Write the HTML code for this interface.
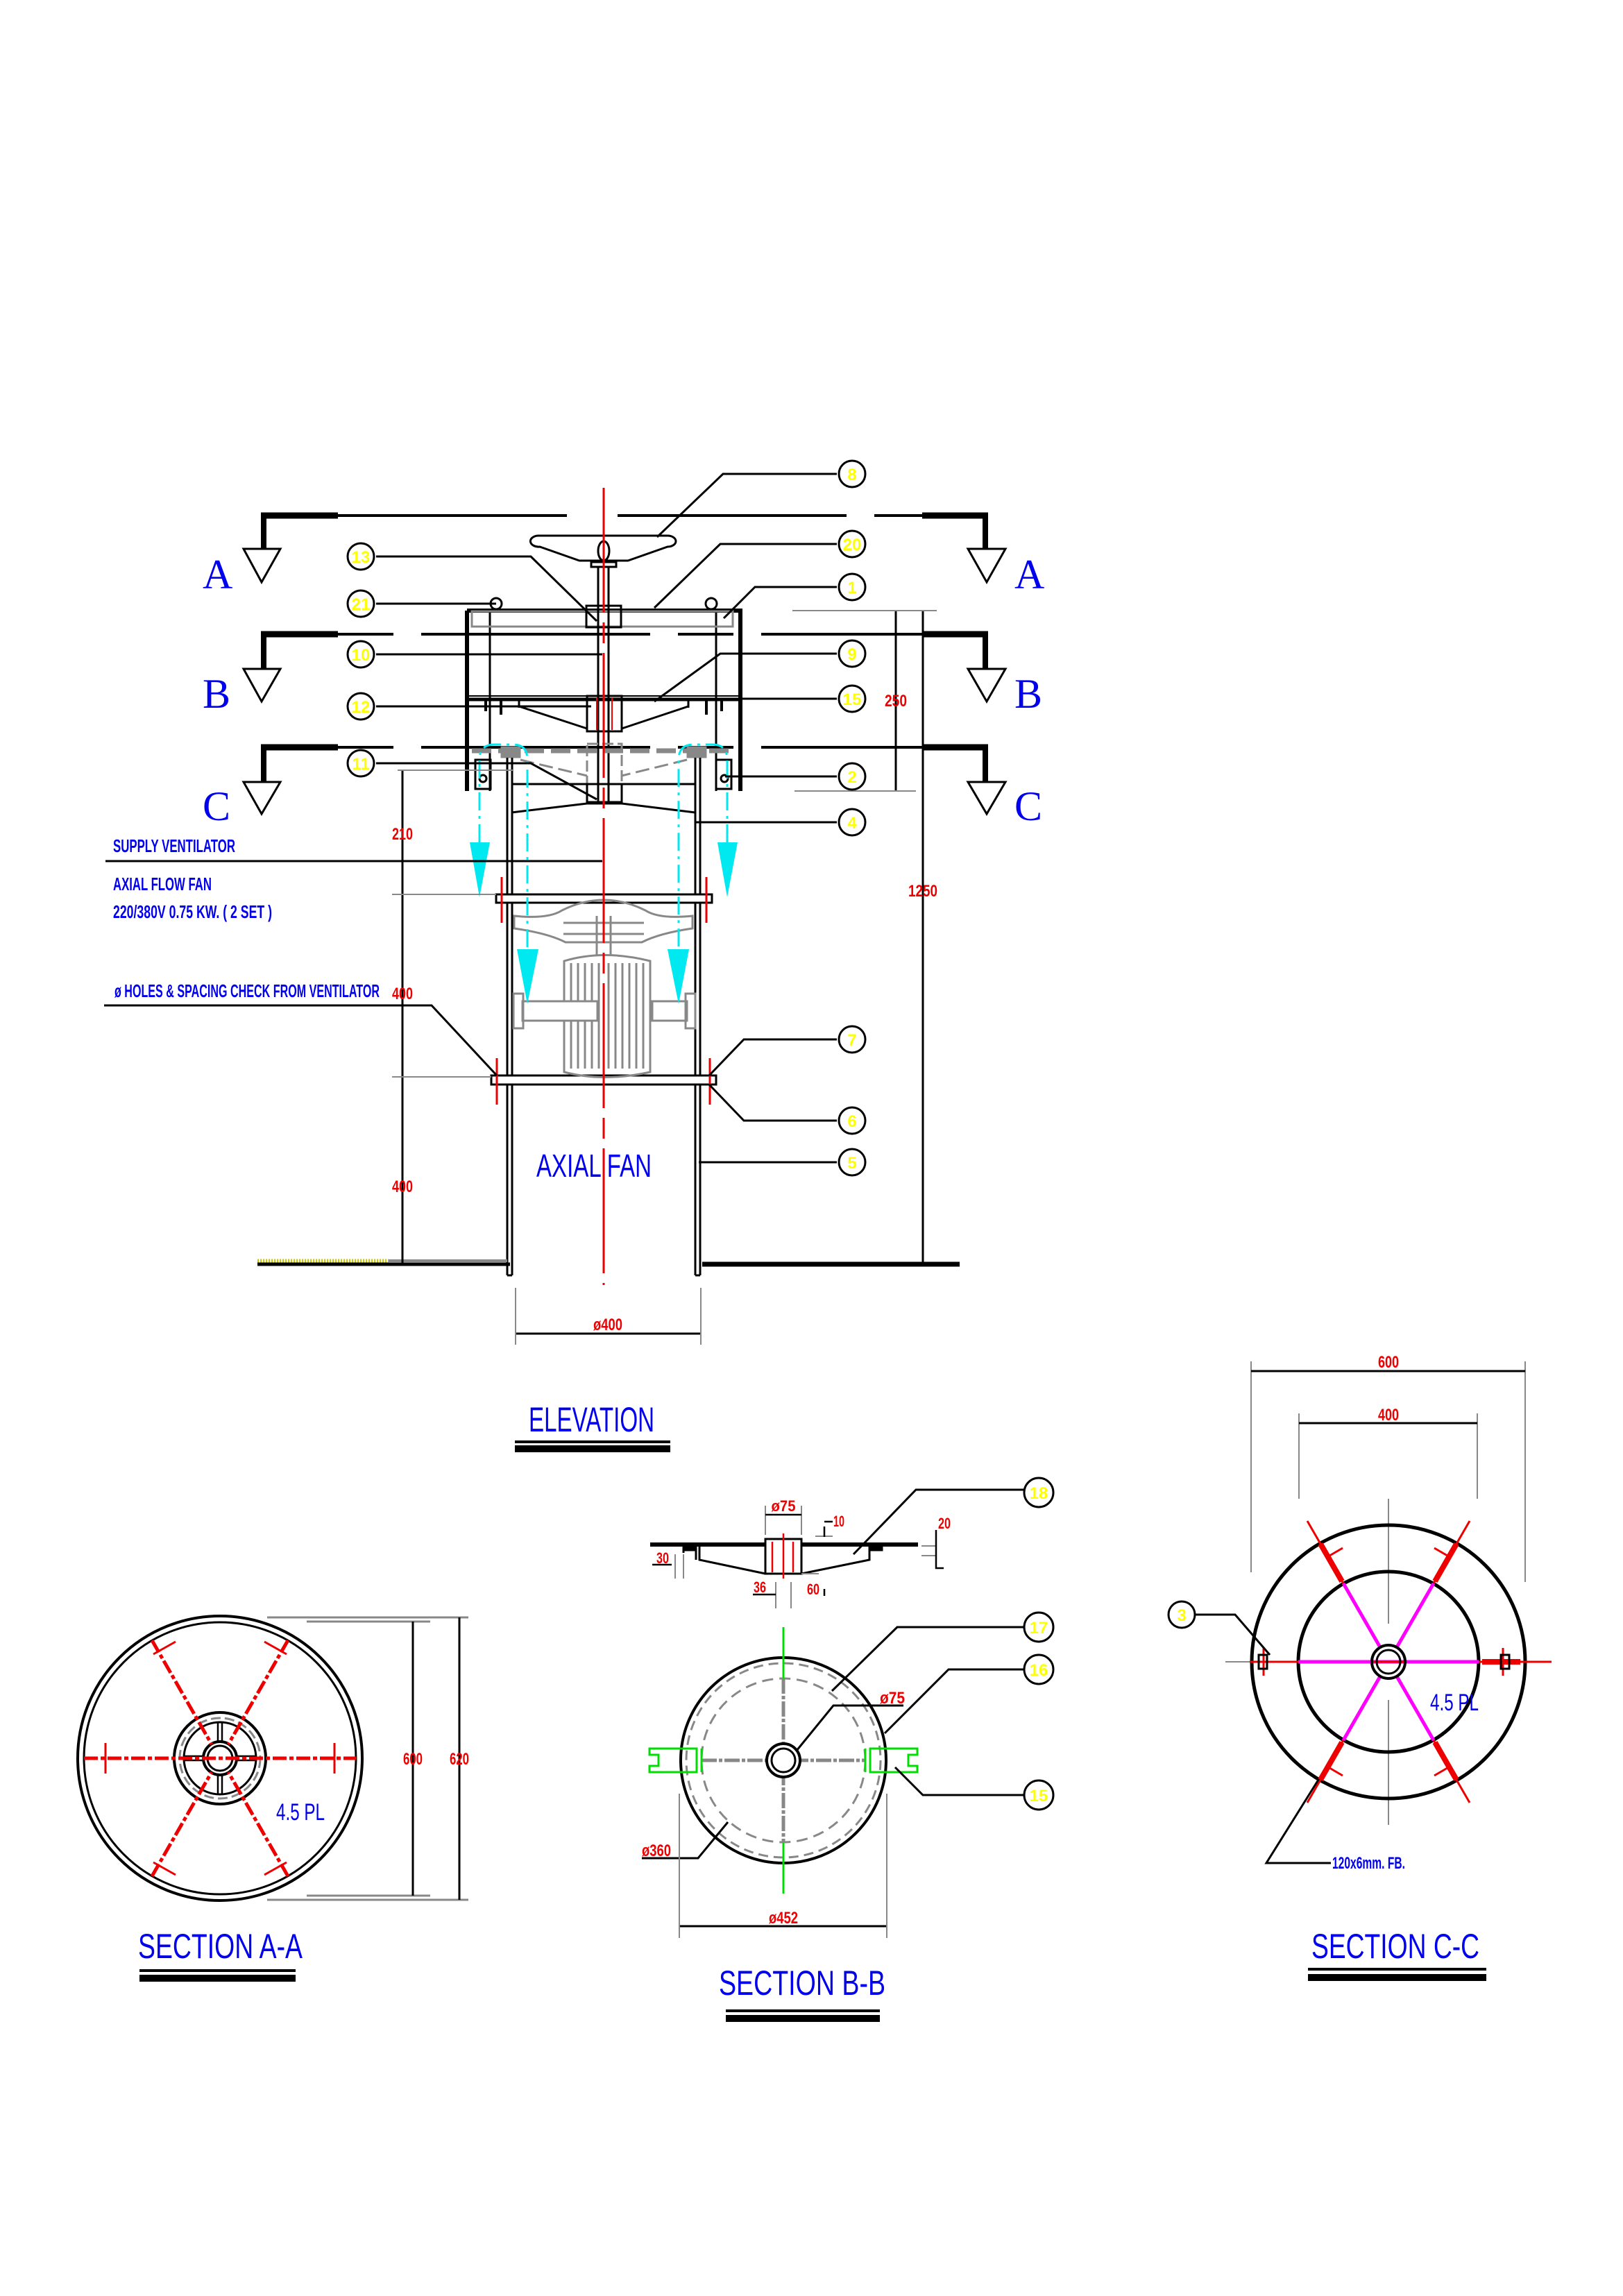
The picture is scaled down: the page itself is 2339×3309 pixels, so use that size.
<!DOCTYPE html>
<html><head><meta charset="utf-8"><style>
html,body{margin:0;padding:0;background:#fff;}
svg{display:block;}
text{font-family:"Liberation Sans Narrow","Liberation Sans",sans-serif;}
.bl{fill:#0000ee;font-weight:bold;}
.rd{fill:#ee0000;}
.yl{fill:#ffff00;font-weight:bold;}
.ser{font-family:"Liberation Serif",serif;fill:#0000ee;}
</style></head><body>
<svg width="2339" height="3309" viewBox="0 0 2339 3309" xmlns="http://www.w3.org/2000/svg">
<rect width="2339" height="3309" fill="#fff"/>

<!-- ===== ELEVATION ===== -->
<!-- section lines -->
<g stroke="#000" fill="none">
 <!-- A -->
 <path d="M487 743 H850 M890 743 H1329" stroke-width="4" stroke-dasharray="330 40 80 40"/>
 <path d="M376 743 H487 M1329 743 H1424" stroke-width="9"/>
 <path d="M380 743 V791 M1420 743 V791" stroke-width="8"/>
 <path d="M351 791 H404 L377 839 Z M1395 791 H1449 L1422 839 Z" stroke-width="3"/>
 <!-- B -->
 <path d="M487 914 H1329" stroke-width="4" stroke-dasharray="80 40 330 40"/>
 <path d="M376 914 H487 M1329 914 H1424" stroke-width="9"/>
 <path d="M380 914 V964 M1420 914 V964" stroke-width="8"/>
 <path d="M351 964 H404 L377 1011 Z M1395 964 H1449 L1422 1011 Z" stroke-width="3"/>
 <!-- C -->
 <path d="M487 1077 H1329" stroke-width="4" stroke-dasharray="80 40 330 40"/>
 <path d="M376 1077 H487 M1329 1077 H1424" stroke-width="9"/>
 <path d="M380 1077 V1127 M1420 1077 V1127" stroke-width="8"/>
 <path d="M351 1127 H404 L377 1173 Z M1395 1127 H1449 L1422 1173 Z" stroke-width="3"/>
</g>
<text class="ser" x="292" y="848" font-size="60">A</text>
<text class="ser" x="1462" y="848" font-size="60">A</text>
<text class="ser" x="292" y="1020" font-size="60">B</text>
<text class="ser" x="1462" y="1020" font-size="60">B</text>
<text class="ser" x="292" y="1182" font-size="60">C</text>
<text class="ser" x="1462" y="1182" font-size="60">C</text>

<!-- box -->
<g stroke="#000" fill="none">
 <path d="M673 880 H1067 V1140 M673 880 V1140" stroke-width="6"/>
 <path d="M706 880 V1140 M1032 880 V1140" stroke-width="3"/>
 <rect x="680" y="881" width="376" height="22" stroke="#888" stroke-width="3"/>
 <!-- lugs -->
 <circle cx="715" cy="870" r="8" stroke-width="3"/>
 <circle cx="1025" cy="870" r="8" stroke-width="3"/>
 <!-- wheel -->
 <path d="M775 772 H962 A12 8 0 0 1 962 788 L905 808 H835 L778 788 A12 8 0 0 1 775 772 Z" stroke-width="3"/>
 <ellipse cx="870" cy="794" rx="8" ry="14" stroke-width="3"/>
 <rect x="852" y="810" width="36" height="7" stroke-width="3"/>
 <path d="M862 817 V1156 M877 817 V1156" stroke-width="3"/>
 <rect x="845" y="873" width="50" height="31" stroke-width="3"/>
 <!-- damper plate -->
 <path d="M673 1008 H1067" stroke-width="5"/>
 <path d="M673 1003 H1067" stroke-width="2"/>
 <path d="M700 1008 V1025 M722 1008 V1030 M1018 1008 V1030 M1040 1008 V1025" stroke-width="4"/>
 <path d="M748 1018 L846 1050 M992 1018 L896 1050 M748 1010 V1020 M992 1010 V1020" stroke-width="3"/>
 <rect x="846" y="1003" width="50" height="51" stroke-width="3"/>
 <path d="M860 1006 V1052 M882 1006 V1052" stroke="#e00" stroke-width="2"/>
 <!-- lower dashed plate -->
 <path d="M680 1082 H1060" stroke="#888" stroke-width="7" stroke-dasharray="28 10"/>
 <rect x="846" y="1072" width="50" height="58" stroke="#888" stroke-width="3" stroke-dasharray="16 6"/>
 <path d="M750 1095 L846 1118 M990 1095 L896 1118" stroke="#888" stroke-width="3" stroke-dasharray="20 8"/>
 <rect x="722" y="1076" width="28" height="16" fill="#888" stroke="#888"/>
 <rect x="990" y="1076" width="28" height="16" fill="#888" stroke="#888"/>
 <path d="M846 1130 V1156 H896 V1130" stroke-width="3"/>
 <!-- bottom brackets -->
 <rect x="685" y="1095" width="22" height="42" stroke-width="3"/>
 <rect x="1032" y="1095" width="22" height="42" stroke-width="3"/>
 <circle cx="696" cy="1122" r="5" stroke-width="3"/>
 <circle cx="1044" cy="1122" r="5" stroke-width="3"/>
 <path d="M737 1130 H1002" stroke-width="3"/>
 <!-- cone -->
 <path d="M737 1171 L846 1158 H896 L1002 1171" stroke-width="3"/>
 <!-- duct -->
 <path d="M731 1092 V1838 M738 1092 V1838 M1002 1092 V1838 M1009 1092 V1838 M731 1838 H738 M1002 1838 H1009" stroke-width="3"/>
 <!-- flanges -->
 <rect x="715" y="1289" width="311" height="12" stroke-width="3" fill="#fff"/>
 <rect x="708" y="1550" width="324" height="13" stroke-width="3" fill="#fff"/>
 <!-- fan (gray) -->
 <g stroke="#888" stroke-width="3">
  <path d="M741 1320 Q790 1325 810 1312 Q870 1282 930 1312 Q950 1325 998 1320 V1338 Q950 1345 925 1358 H815 Q790 1345 741 1338 Z"/>
  <path d="M812 1330 H928 M812 1346 H928 M860 1320 V1378 M880 1320 V1378"/>
  <path d="M813 1385 Q870 1368 937 1385 V1545 Q870 1560 813 1545 Z"/>
  <path d="M823 1388 V1540 M833 1388 V1540 M843 1388 V1540 M853 1388 V1540 M863 1388 V1540 M877 1388 V1540 M887 1388 V1540 M897 1388 V1540 M907 1388 V1540 M917 1388 V1540 M927 1388 V1540"/>
  <rect x="753" y="1443" width="108" height="28" fill="#fff"/>
  <rect x="940" y="1443" width="50" height="28" fill="#fff"/>
  <rect x="740" y="1432" width="14" height="50"/>
  <rect x="988" y="1432" width="14" height="50"/>
 </g>
</g>
<!-- red flange ticks -->
<g stroke="#e00" stroke-width="3">
 <path d="M723 1264 V1330 M1018 1264 V1330 M716 1525 V1592 M1023 1525 V1592"/>
</g>
<!-- centerline -->
<path d="M870 703 V1852" stroke="#e00" stroke-width="3" stroke-dasharray="180 14 30 14"/>
<!-- cyan arrows -->
<g stroke="#00e8f0" stroke-width="3" fill="none" stroke-dasharray="26 8 4 8">
 <path d="M691 1214 V1095 Q691 1073 712 1073 H740 Q760 1073 760 1095 V1368"/>
 <path d="M1048 1214 V1095 Q1048 1073 1027 1073 H999 Q978 1073 978 1095 V1368"/>
</g>
<g fill="#00e8f0">
 <path d="M677 1214 H706 L691 1293 Z"/>
 <path d="M1034 1214 H1063 L1048 1293 Z"/>
 <path d="M745 1368 H776 L760 1447 Z"/>
 <path d="M962 1368 H993 L978 1447 Z"/>
</g>

<!-- ground -->
<path d="M371 1822 H735" stroke="#000" stroke-width="5"/>
<path d="M371 1817 H560" stroke="#c8c800" stroke-width="5" stroke-dasharray="2 2"/>
<path d="M560 1817 H731" stroke="#888" stroke-width="4"/>
<path d="M1012 1822 H1383" stroke="#000" stroke-width="7"/>

<!-- dimensions elevation -->
<g stroke="#000" stroke-width="3" fill="none">
 <path d="M580 1110 V1822"/>
 <path d="M1291 880 V1140"/>
 <path d="M1330 880 V1822"/>
 <path d="M743 1922 H1010"/>
</g>
<g stroke="#888" stroke-width="2" fill="none">
 <path d="M573 1110 H740 M565 1289 H715 M565 1552 H708"/>
 <path d="M1142 880 H1350 M1145 1140 H1320"/>
 <path d="M743 1856 V1938 M1010 1856 V1938"/>
</g>
<g class="rd" font-size="24" font-weight="bold" text-anchor="middle">
 <text x="580" y="1210" textLength="30" lengthAdjust="spacingAndGlyphs">210</text>
 <text x="580" y="1440" textLength="30" lengthAdjust="spacingAndGlyphs">400</text>
 <text x="580" y="1718" textLength="30" lengthAdjust="spacingAndGlyphs">400</text>
 <text x="1291" y="1018" textLength="32" lengthAdjust="spacingAndGlyphs">250</text>
 <text x="1330" y="1292" textLength="42" lengthAdjust="spacingAndGlyphs">1250</text>
 <text x="876" y="1917" textLength="42" lengthAdjust="spacingAndGlyphs">ø400</text>
</g>

<!-- left notes -->
<g class="bl" font-size="26">
 <text x="163" y="1228" textLength="176" lengthAdjust="spacingAndGlyphs">SUPPLY VENTILATOR</text>
 <text x="163" y="1283" textLength="142" lengthAdjust="spacingAndGlyphs">AXIAL FLOW FAN</text>
 <text x="163" y="1323" textLength="229" lengthAdjust="spacingAndGlyphs">220/380V 0.75 KW. ( 2 SET )</text>
 <text x="165" y="1437" textLength="382" lengthAdjust="spacingAndGlyphs">ø HOLES &amp; SPACING CHECK FROM VENTILATOR</text>
</g>
<g stroke="#000" stroke-width="3" fill="none">
 <path d="M152 1241 H868"/>
 <path d="M150 1449 H622 L716 1550"/>
</g>
<text x="773" y="1696" fill="#0000ee" font-size="46" textLength="166" lengthAdjust="spacingAndGlyphs">AXIAL  FAN</text>

<!-- leaders -->
<g stroke="#000" stroke-width="3" fill="none">
 <path d="M1206 683 H1042 L947 774"/>
 <path d="M1206 784 H1038 L943 876"/>
 <path d="M1206 846 H1088 L1043 891"/>
 <path d="M1206 942 H1038 L943 1011"/>
 <path d="M1206 1007 H997"/>
 <path d="M1206 1119 H1045"/>
 <path d="M1206 1185 H1001"/>
 <path d="M1206 1498 H1072 L1022 1550"/>
 <path d="M1206 1615 H1072 L1022 1563"/>
 <path d="M1206 1675 H1007"/>
 <path d="M542 802 H765 L860 895"/>
 <path d="M542 870 H715"/>
 <path d="M542 943 H868"/>
 <path d="M542 1018 H852"/>
 <path d="M542 1100 H765 L860 1152"/>
</g>
<g stroke="#000" stroke-width="3" fill="#fff">
 <circle cx="1228" cy="683" r="19"/><circle cx="1228" cy="784" r="19"/><circle cx="1228" cy="846" r="19"/>
 <circle cx="1228" cy="942" r="19"/><circle cx="1228" cy="1007" r="19"/><circle cx="1228" cy="1119" r="19"/>
 <circle cx="1228" cy="1185" r="19"/><circle cx="1228" cy="1498" r="19"/><circle cx="1228" cy="1615" r="19"/>
 <circle cx="1228" cy="1675" r="19"/>
 <circle cx="520" cy="802" r="19"/><circle cx="520" cy="870" r="19"/><circle cx="520" cy="943" r="19"/>
 <circle cx="520" cy="1018" r="19"/><circle cx="520" cy="1100" r="19"/>
</g>
<g class="yl" font-size="24" text-anchor="middle">
 <text x="1228" y="692">8</text><text x="1228" y="793">20</text><text x="1228" y="855">1</text>
 <text x="1228" y="951">9</text><text x="1228" y="1016">15</text><text x="1228" y="1128">2</text>
 <text x="1228" y="1194">4</text><text x="1228" y="1507">7</text><text x="1228" y="1624">6</text>
 <text x="1228" y="1684">5</text>
 <text x="520" y="811">13</text><text x="520" y="879">21</text><text x="520" y="952">10</text>
 <text x="520" y="1027">12</text><text x="520" y="1109">11</text>
</g>

<!-- ELEVATION title -->
<text x="762" y="2063" fill="#0000ee" font-size="50" textLength="181" lengthAdjust="spacingAndGlyphs">ELEVATION</text>
<rect x="742" y="2076" width="224" height="4" fill="#000"/>
<rect x="742" y="2083" width="224" height="10" fill="#000"/>

<!-- ===== SECTION A-A ===== -->
<g transform="translate(317,2534)" fill="none" stroke="#000">
 <circle r="205" stroke-width="4"/>
 <circle r="196" stroke-width="3"/>
 <circle r="66" stroke-width="4"/>
 <circle r="58" stroke="#888" stroke-width="3" stroke-dasharray="14 6"/>
 <circle r="52" stroke-width="3"/>
 <circle r="24" stroke-width="4"/>
 <circle r="18" stroke-width="3"/>
 <path d="M-3 -24 V-52 M3 -24 V-52 M-3 24 V52 M3 24 V52 M-24 -3 H-52 M-24 3 H-52 M24 -3 H52 M24 3 H52" stroke-width="2.5"/>
 <g stroke="#e00" stroke-width="5" stroke-dasharray="20 4 6 4">
  <path d="M-196 0 H196"/>
  <path d="M-98 -170 L-12 -20 M98 -170 L12 -20 M-98 170 L-12 20 M98 170 L12 20"/>
 </g>
 <g stroke="#e00" stroke-width="3">
  <path d="M-165 -22 V22 M165 -22 V22"/>
  <path d="M-96 -150 L-64 -168 M96 -150 L64 -168 M-96 150 L-64 168 M96 150 L64 168"/>
 </g>
</g>
<g stroke="#888" stroke-width="3"><path d="M385 2331 H675 M442 2337 H620 M385 2738 H675 M442 2732 H620"/></g>
<g stroke="#000" stroke-width="3"><path d="M595 2337 V2732 M662 2331 V2738"/></g>
<g class="rd" font-size="24" font-weight="bold" text-anchor="middle">
 <text x="595" y="2543" textLength="28" lengthAdjust="spacingAndGlyphs">600</text>
 <text x="662" y="2543" textLength="28" lengthAdjust="spacingAndGlyphs">620</text>
</g>
<text x="398" y="2623" fill="#0000ee" font-size="34" textLength="70" lengthAdjust="spacingAndGlyphs">4.5 PL</text>
<text x="199" y="2822" fill="#0000ee" font-size="50" textLength="237" lengthAdjust="spacingAndGlyphs">SECTION  A-A</text>
<rect x="201" y="2838" width="225" height="4" fill="#000"/>
<rect x="201" y="2846" width="225" height="10" fill="#000"/>

<!-- ===== SECTION B-B top detail ===== -->
<g stroke="#000" fill="none" stroke-width="3">
 <path d="M937 2226 H1103 M1155 2226 H1323" stroke-width="6"/>
 <rect x="1103" y="2218" width="52" height="50" fill="#fff"/>
 <path d="M1003 2226 V2248 M1008 2226 V2248 L1103 2268 M1253 2226 V2248 L1155 2268 M985 2226 V2238" />
 <rect x="985" y="2226" width="18" height="8" fill="#000"/>
 <rect x="1253" y="2226" width="18" height="8" fill="#000"/>
 <path d="M1490 2147 H1320 L1230 2240" />
</g>
<g stroke="#e00" stroke-width="2.5"><path d="M1113 2222 V2266 M1129 2210 V2275 M1143 2222 V2266"/></g>
<g stroke="#888" stroke-width="2"><path d="M1103 2170 V2212 M1155 2170 V2212 M1118 2280 V2318 M1140 2280 V2318 M973 2240 V2275 M985 2240 V2275 M1175 2214 H1200 M1155 2268 H1180 M1328 2228 H1350 M1328 2242 H1350"/></g>
<g stroke="#000" stroke-width="2.5" fill="none"><path d="M1103 2183 H1155 M940 2255 H968 M1085 2298 H1118 M1188 2290 V2300 M1188 2200 V2215 M1200 2193 H1188 M1349 2205 V2260 H1360"/></g>
<g class="rd" font-size="22" font-weight="bold" text-anchor="middle">
 <text x="1129" y="2178" textLength="35" lengthAdjust="spacingAndGlyphs">ø75</text>
 <text x="1209" y="2200" textLength="16" lengthAdjust="spacingAndGlyphs">10</text>
 <text x="1361" y="2203" textLength="18" lengthAdjust="spacingAndGlyphs">20</text>
 <text x="955" y="2253" textLength="18" lengthAdjust="spacingAndGlyphs">30</text>
 <text x="1095" y="2295" textLength="18" lengthAdjust="spacingAndGlyphs">36</text>
 <text x="1172" y="2298" textLength="18" lengthAdjust="spacingAndGlyphs">60</text>
</g>

<!-- SECTION B-B circle -->
<g transform="translate(1129,2537)" fill="none">
 <circle r="148" stroke="#000" stroke-width="4"/>
 <circle r="140" stroke="#888" stroke-width="3" stroke-dasharray="14 8"/>
 <circle r="118" stroke="#888" stroke-width="3" stroke-dasharray="16 9"/>
 <path d="M-118 0 H118 M0 -118 V118" stroke="#888" stroke-width="5" stroke-dasharray="22 3 5 3"/>
 <circle r="24" stroke="#000" stroke-width="4" fill="#fff"/>
 <circle r="17" stroke="#000" stroke-width="3"/>
 <path d="M0 -192 V-118 M0 118 V192" stroke="#00dd00" stroke-width="3"/>
 <path d="M-125 -17 H-193 V-8 H-180 V8 H-193 V17 H-125 Z M125 -17 H193 V-8 H180 V8 H193 V17 H125 Z" stroke="#00dd00" stroke-width="3"/>
 <path d="M-118 -17 V17 M118 -17 V17" stroke="#00dd00" stroke-width="3"/>
</g>
<g stroke="#000" stroke-width="3" fill="none">
 <path d="M1476 2345 H1293 L1199 2437"/>
 <path d="M1476 2406 H1367 L1275 2498"/>
 <path d="M1476 2587 H1330 L1290 2547"/>
 <path d="M1302 2458 H1201 L1148 2523"/>
 <path d="M925 2678 H1006 L1049 2626"/>
 <path d="M979 2776 H1278"/>
</g>
<g stroke="#888" stroke-width="2"><path d="M979 2585 V2793 M1278 2585 V2793"/></g>
<g class="rd" font-size="24" font-weight="bold" text-anchor="middle">
 <text x="1286" y="2455" textLength="36" lengthAdjust="spacingAndGlyphs">ø75</text>
 <text x="946" y="2675" textLength="42" lengthAdjust="spacingAndGlyphs">ø360</text>
 <text x="1129" y="2772" textLength="42" lengthAdjust="spacingAndGlyphs">ø452</text>
</g>
<g stroke="#000" stroke-width="3" fill="#fff">
 <circle cx="1497" cy="2151" r="21"/><circle cx="1497" cy="2345" r="21"/>
 <circle cx="1497" cy="2406" r="21"/><circle cx="1497" cy="2587" r="21"/>
</g>
<g class="yl" font-size="24" text-anchor="middle">
 <text x="1497" y="2160">18</text><text x="1497" y="2354">17</text>
 <text x="1497" y="2415">16</text><text x="1497" y="2596">15</text>
</g>
<text x="1036" y="2875" fill="#0000ee" font-size="50" textLength="240" lengthAdjust="spacingAndGlyphs">SECTION  B-B</text>
<rect x="1046" y="2896" width="222" height="4" fill="#000"/>
<rect x="1046" y="2904" width="222" height="10" fill="#000"/>

<!-- ===== SECTION C-C ===== -->
<g stroke="#888" stroke-width="2"><path d="M1803 1962 V2266 M2198 1962 V2280 M1872 2037 V2160 M2129 2037 V2160 M2001 2160 V2340 M2001 2450 V2630 M1766 2395 H1805"/></g>
<g stroke="#000" stroke-width="3"><path d="M1803 1976 H2198 M1872 2051 H2129"/></g>
<g class="rd" font-size="24" font-weight="bold" text-anchor="middle">
 <text x="2001" y="1971" textLength="30" lengthAdjust="spacingAndGlyphs">600</text>
 <text x="2001" y="2047" textLength="30" lengthAdjust="spacingAndGlyphs">400</text>
</g>
<g transform="translate(2001,2395)" fill="none">
 <circle r="197" stroke="#000" stroke-width="5"/>
 <circle r="130" stroke="#000" stroke-width="5"/>
 <g stroke="#ff00ff" stroke-width="5">
  <path d="M-130 0 H130 M-65 -113 L-12 -21 M65 -113 L12 -21 M-65 113 L-12 21 M65 113 L12 21"/>
 </g>
 <g stroke="#e00" stroke-width="3">
  <path d="M-65 -113 L-117 -203 M65 -113 L117 -203 M-65 113 L-117 203 M65 113 L117 203 M-22 0 H22 M130 0 H235 M-200 0 H-130"/>
  <path d="M-90 -150 L-66 -164 M90 -150 L66 -164 M-90 150 L-66 164 M90 150 L66 164 M-180 -20 V20 M165 -20 V20"/>
 </g>
 <g stroke="#e00" stroke-width="8">
  <path d="M-67 -116 L-98 -170 M67 -116 L98 -170 M-67 116 L-98 170 M67 116 L98 170 M135 0 H190"/>
 </g>
 <circle r="24" stroke="#000" stroke-width="4" fill="none"/>
 <circle r="17" stroke="#000" stroke-width="3"/>
 <rect x="-187" y="-10" width="12" height="20" stroke="#000" stroke-width="3"/>
 <rect x="162" y="-10" width="12" height="20" stroke="#000" stroke-width="3"/>
</g>
<g stroke="#000" stroke-width="3" fill="none">
 <path d="M1722 2327 H1780 L1830 2385"/>
 <path d="M1918 2685 H1825 L1900 2565"/>
</g>
<circle cx="1703" cy="2327" r="19" stroke="#000" stroke-width="3" fill="#fff"/>
<text x="1703" y="2336" class="yl" font-size="24" text-anchor="middle">3</text>
<text x="2061" y="2465" fill="#0000ee" font-size="34" textLength="70" lengthAdjust="spacingAndGlyphs">4.5 PL</text>
<text x="1920" y="2693" class="bl" font-size="24" textLength="105" lengthAdjust="spacingAndGlyphs">120x6mm. FB.</text>
<text x="1890" y="2822" fill="#0000ee" font-size="50" textLength="242" lengthAdjust="spacingAndGlyphs">SECTION  C-C</text>
<rect x="1885" y="2836" width="257" height="4" fill="#000"/>
<rect x="1885" y="2845" width="257" height="10" fill="#000"/>
</svg>
</body></html>
